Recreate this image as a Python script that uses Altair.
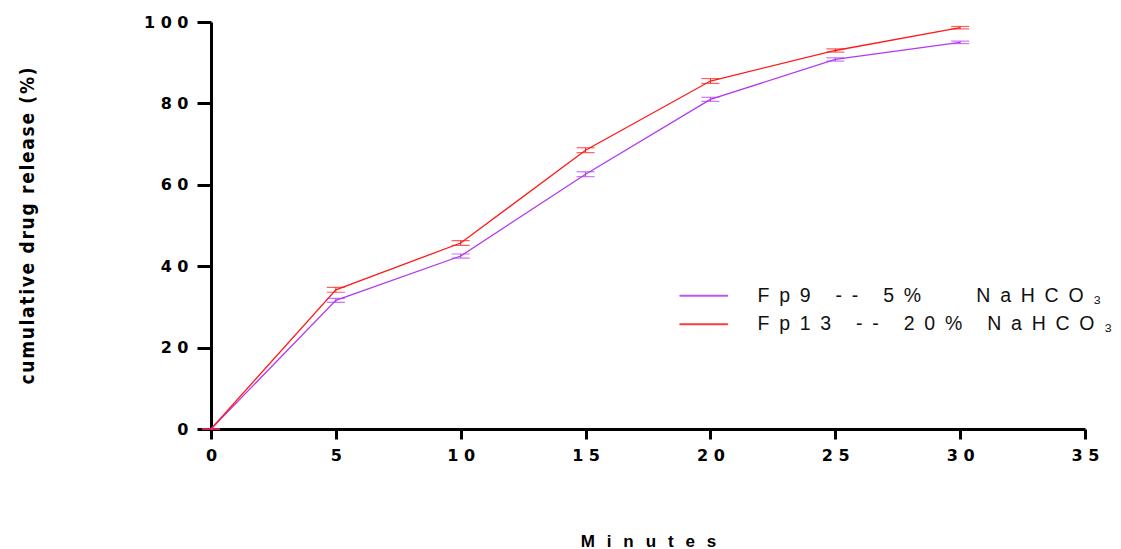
import altair as alt
import pandas as pd

minutes = [0, 5, 10, 15, 20, 25, 30]
fp9_mean = [0, 31.6, 42.5, 62.6, 81.0, 90.8, 95.0]
fp9_sd = [0, 0.5, 0.5, 0.6, 0.5, 0.4, 0.3]
fp13_mean = [0, 34.2, 45.7, 68.5, 85.5, 93.0, 98.6]
fp13_sd = [0, 0.6, 0.6, 0.6, 0.6, 0.4, 0.3]

series_names = ["Fp9 -- 5%   NaHCO₃", "Fp13 -- 20% NaHCO₃"]
series_colors = ["#B23AEE", "#FF1A1A"]

x_ticks = [0, 5, 10, 15, 20, 25, 30, 35]
y_ticks = [0, 20, 40, 60, 80, 100]

y_title = "cumulative drug release (%)"
x_title = "Minutes"


def spaced(s, sep="\u2002"):
    return sep.join(list(s))


labels = [spaced(s) for s in series_names]

rows = []
for name, mean, sd in [(labels[0], fp9_mean, fp9_sd), (labels[1], fp13_mean, fp13_sd)]:
    for m, v, e in zip(minutes, mean, sd):
        rows.append({"Minutes": m, "value": v, "lo": v - e, "hi": v + e, "series": name})
df = pd.DataFrame(rows)

color_scale = alt.Scale(domain=labels, range=series_colors)

color = alt.Color(
    "series:N",
    scale=color_scale,
    sort=labels,
    legend=alt.Legend(
        title=None,
        orient="none",
        legendX=483,
        legendY=264,
        symbolType="M-8,-0.2H8V0.2H-8Z",
        symbolSize=36,
        symbolStrokeWidth=0.6,
        labelFont="Liberation Sans",
        labelFontSize=19.5,
        labelColor="#111111",
        labelOffset=44,
        labelLimit=600,
        rowPadding=7.5,
        padding=0,
    ),
)

label_expr = "join(split(datum.label, ''), ' ')"

x = alt.X(
    "Minutes:Q",
    scale=alt.Scale(domain=[0, 35], nice=False, zero=True),
    axis=alt.Axis(
        values=x_ticks,
        title=spaced(x_title, "\u2002\u2009"),
        titleFont="Liberation Sans",
        titleFontSize=17,
        titleFontWeight="bold",
        titleColor="#000000",
        titleY=112,
        titleBaseline="middle",
        labelFont="DejaVu Sans",
        labelFontSize=16,
        labelFontWeight="bold",
        labelColor="#000000",
        labelExpr=label_expr,
        labelFlush=False,
        labelPadding=8,
        tickSize=10,
        tickWidth=3,
        tickColor="#000000",
        domainWidth=3,
        domainColor="#000000",
        grid=False,
    ),
)

y = alt.Y(
    "value:Q",
    scale=alt.Scale(domain=[0, 100], nice=False),
    axis=alt.Axis(
        values=y_ticks,
        title=spaced(y_title, "\u200a"),
        titleFont="DejaVu Sans Condensed",
        titleFontSize=19,
        titleFontWeight="bold",
        titleColor="#000000",
        titleX=-184,
        titleBaseline="middle",
        labelFont="DejaVu Sans",
        labelFontSize=16,
        labelFontWeight="bold",
        labelColor="#000000",
        labelExpr=label_expr,
        labelFlush=False,
        labelPadding=9,
        tickSize=14,
        tickWidth=3,
        tickColor="#000000",
        domainWidth=3,
        domainColor="#000000",
        grid=False,
    ),
)

base = alt.Chart(df)

lines = base.mark_line(strokeWidth=1.3).encode(x=x, y=y, color=color)

nolegend = alt.Color("series:N", scale=color_scale, legend=None)

err = base.mark_rule(strokeWidth=1).encode(x="Minutes:Q", y="lo:Q", y2="hi:Q", color=nolegend)
cap_lo = base.mark_tick(thickness=1.2, size=18, orient="horizontal").encode(
    x="Minutes:Q", y="lo:Q", color=nolegend
)
cap_hi = base.mark_tick(thickness=1.2, size=18, orient="horizontal").encode(
    x="Minutes:Q", y="hi:Q", color=nolegend
)

chart = (
    alt.layer(lines, err, cap_lo, cap_hi)
    .properties(
        width=874,
        height=407,
        autosize=alt.AutoSizeParams(type="none"),
        padding={"left": 211, "top": 22, "right": 36, "bottom": 120},
        background="#ffffff",
    )
    .configure_view(stroke=None)
)

chart.save("out.html", embed_options={"renderer": "svg", "actions": False})
